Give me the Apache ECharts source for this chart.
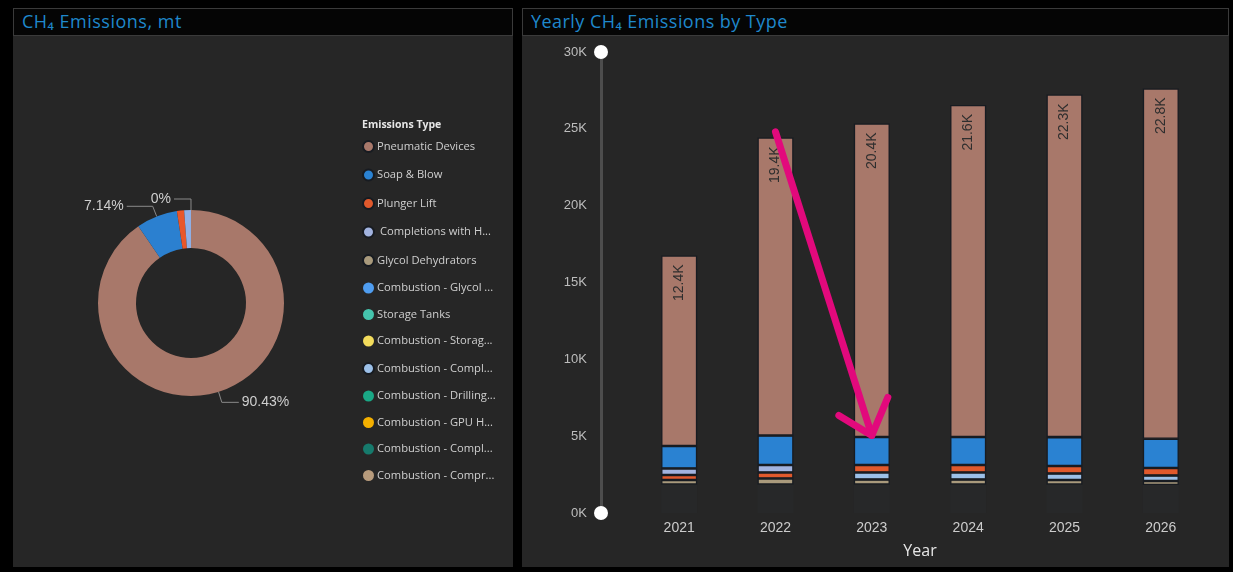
<!DOCTYPE html>
<html><head><meta charset="utf-8">
<script src="https://cdn.jsdelivr.net/npm/echarts@6/dist/echarts.min.js"></script>
<style>
html,body{margin:0;padding:0;background:#000;width:1233px;height:572px;overflow:hidden;}
.panel{position:absolute;background:#262626;}
.tbar{position:absolute;left:0;right:0;top:0;height:28px;background:#050505;border:1px solid #3a3a3a;box-sizing:border-box;}
.ttl{position:absolute;left:8px;top:0px;color:#1f88cc;font-family:'Open Sans',sans-serif;font-size:18px;letter-spacing:0.5px;white-space:nowrap;}
#chart{position:absolute;left:0;top:0;width:1233px;height:572px;}
</style></head><body>
<div class="panel" style="left:13px;top:8px;width:500px;height:559px"><div class="tbar"><span class="ttl">CH₄ Emissions, mt</span></div></div>
<div class="panel" style="left:522px;top:8px;width:707px;height:559px"><div class="tbar"><span class="ttl" style="letter-spacing:0.45px">Yearly CH₄ Emissions by Type</span></div></div>
<div id="chart"></div>
<script>
// ---------- data ----------
const years = ['2021', '2022', '2023', '2024', '2025', '2026'];
const typeNames = ['Pneumatic Devices', 'Soap & Blow', 'Plunger Lift', 'Completions with HF', 'Glycol Dehydrators',
  'Combustion - Glycol Dehydrators', 'Storage Tanks', 'Combustion - Storage Tanks', 'Combustion - Completions',
  'Combustion - Drilling Rigs', 'Combustion - GPU Heaters', 'Combustion - Compl. Flaring', 'Combustion - Compressors'];
const typeLabels = ['Pneumatic Devices', 'Soap & Blow', 'Plunger Lift', ' Completions with H...', 'Glycol Dehydrators',
  'Combustion - Glycol ...', 'Storage Tanks', 'Combustion - Storag...', 'Combustion - Compl...',
  'Combustion - Drilling...', 'Combustion - GPU H...', 'Combustion - Compl...', 'Combustion - Compr...'];
const typeColors = ['#a8786a', '#2b80d0', '#e8572b', '#8fb0e6', '#c7a97c', '#4f9df0', '#45c4ad', '#f3dc5c',
  '#72b4e8', '#1aa886', '#f4b000', '#167a6c', '#b79b7c'];
const sharePct = [90.43, 7.14, 1.25, 1.18, 0.001, 0, 0, 0, 0, 0, 0, 0, 0];
const labelledShares = ['Pneumatic Devices', 'Soap & Blow', 'Glycol Dehydrators'];

// yearly emissions, mt (stack order bottom -> top)
const baseOther = [1850, 1850, 1850, 1850, 1850, 1820];
const glycolDehy = [300, 400, 330, 330, 300, 260];
const combCompl = [null, null, 460, 460, 420, 360];
const plungerLift = [320, 390, 480, 480, 490, 490];
const completionsHF = [430, 480, null, null, null, null];
const soapBlow = [1460, 1920, 1830, 1830, 1880, 1900];
const pneumatic = [12400, 19400, 20400, 21600, 22300, 22800];

const yMax = 30000, yStep = 5000;
// annotation arrow anchors (category index, value)
const arrowFrom = [1, 24800];
const arrowTo = [2, 5050];

// ---------- chart ----------
const chart = echarts.init(document.getElementById('chart'), null, {renderer: 'canvas'});
const gridLeft = 631, axisOffset = 30;
const border = {borderColor: '#171b21', borderWidth: 1.3};

function barSeries(name, data, color, extra, noBorder) {
  return Object.assign({
    name: name, type: 'bar', stack: 'total', data: data, barWidth: 36,
    itemStyle: Object.assign({color: color}, noBorder ? {borderWidth: 0} : border),
    emphasis: {disabled: true}
  }, extra || {});
}

const pieData = typeNames.map((n, i) => {
  const show = labelledShares.indexOf(n) >= 0;
  const item = {name: n, value: sharePct[i], itemStyle: {color: typeColors[i]},
    label: {show: show}, labelLine: {show: show}};
  if (n === 'Soap & Blow') item.labelLine.length2 = 26;
  return item;
});

const option = {
  backgroundColor: 'transparent',
  animation: false,
  textStyle: {fontFamily: "'Liberation Sans', Arial, sans-serif"},
  title: {
    text: 'Emissions Type', left: 357, top: 115,
    textStyle: {color: '#e6e6e6', fontSize: 10.5, fontWeight: 'bold', fontFamily: "'Open Sans', sans-serif"}
  },
  legend: {
    orient: 'vertical', left: 357, top: 135,
    data: typeNames, icon: 'circle', itemWidth: 11, itemHeight: 11, itemGap: 15.5,
    selectedMode: false,
    formatter: n => typeLabels[typeNames.indexOf(n)],
    textStyle: {color: '#cfcfcf', fontSize: 11.2, fontFamily: "'Open Sans', sans-serif", padding: [0, 0, 0, -2]}
  },
  grid: {left: gridLeft, right: 24, top: 52, bottom: 59, containLabel: false},
  xAxis: {
    type: 'category', data: years,
    axisLine: {show: false}, axisTick: {show: false},
    axisLabel: {color: '#cccccc', fontSize: 14, margin: 8},
    name: 'Year', nameLocation: 'middle', nameGap: 30,
    nameTextStyle: {color: '#e6e6e6', fontSize: 16, fontFamily: "'Open Sans', sans-serif"}
  },
  yAxis: {
    type: 'value', min: 0, max: yMax, interval: yStep, offset: axisOffset,
    axisLine: {show: true, lineStyle: {color: '#4d4d4d', width: 3}},
    axisTick: {show: false}, splitLine: {show: false},
    axisLabel: {color: '#bdbdbd', fontSize: 13, margin: 14, formatter: v => (v / 1000) + 'K'}
  },
  series: [
    {
      type: 'pie', center: [191, 303], radius: [55, 93], startAngle: 90,
      avoidLabelOverlap: false, data: pieData, emphasis: {disabled: true},
      label: {formatter: '{d}%', color: '#cfcfcf', fontSize: 14, distanceToLabelLine: 3},
      labelLine: {length: 11, length2: 17, lineStyle: {color: '#8a8a8a', width: 1}}
    },
    barSeries('Other', baseOther, '#272829', null, true),
    barSeries('Glycol Dehydrators', glycolDehy, '#a99a7c'),
    barSeries('Combustion - Completions', combCompl, '#9cc0e8'),
    barSeries('Plunger Lift', plungerLift, '#e0592c'),
    barSeries('Completions with HF', completionsHF, '#a2b3df'),
    barSeries('Soap & Blow', soapBlow, '#2a82d2'),
    barSeries('Pneumatic Devices', pneumatic, '#a8786a', {
      label: {show: true, position: 'insideTop', rotate: 90, align: 'right', verticalAlign: 'middle',
        distance: 9, color: '#2e2e2e', fontSize: 14,
        formatter: p => (p.value / 1000).toFixed(1) + 'K'}
    })
  ]
};
chart.setOption(option);

// slider handles on the value axis and the annotation arrow
const topPt = chart.convertToPixel({yAxisIndex: 0}, yMax);
const botPt = chart.convertToPixel({yAxisIndex: 0}, 0);
const hx = gridLeft - axisOffset;
const p0 = chart.convertToPixel({xAxisIndex: 0, yAxisIndex: 0}, arrowFrom);
const p1 = chart.convertToPixel({xAxisIndex: 0, yAxisIndex: 0}, arrowTo);
const arrowStyle = {stroke: '#e2097c', lineWidth: 7, lineCap: 'round', lineJoin: 'round', fill: null};
chart.setOption({
  graphic: [
    {type: 'circle', shape: {cx: hx, cy: topPt, r: 7}, style: {fill: '#ffffff'}, z: 100},
    {type: 'circle', shape: {cx: hx, cy: botPt, r: 7}, style: {fill: '#ffffff'}, z: 100},
    {type: 'polyline', shape: {points: [p0, p1]}, style: arrowStyle, z: 100},
    {type: 'polyline', shape: {points: [[p1[0] - 33, p1[1] - 20], p1, [p1[0] + 16, p1[1] - 38]]}, style: arrowStyle, z: 100}
  ]
});
</script>
</body></html>
